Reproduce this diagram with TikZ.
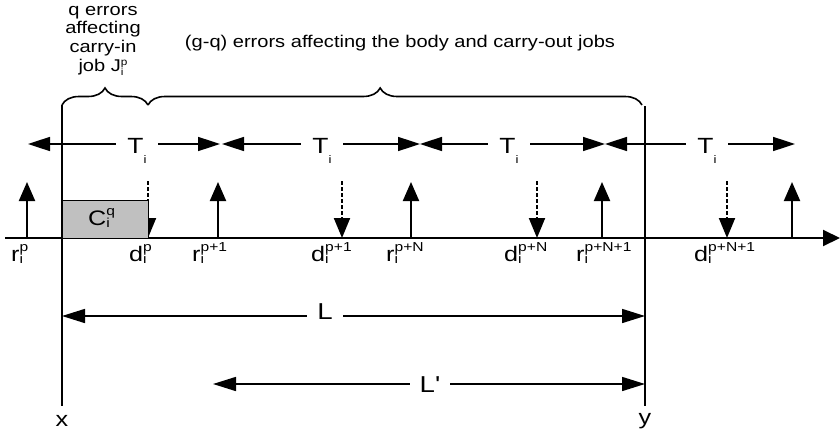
\documentclass[tikz,border=0pt]{standalone}
\usepackage{fontspec}
\setmainfont{Liberation Sans}
\usepackage{graphicx}
\usetikzlibrary{arrows.meta,decorations.pathreplacing}
\newcommand\hs[1]{\scalebox{1.2}[1]{#1}}
\newcommand\hh[1]{\scalebox{1.18}[1]{#1}}
\newcommand\subsz{\fontsize{13}{13}\selectfont}
\newcommand\lb[3]{#1\rlap{\raisebox{-2.5pt}{\subsz #2}}\raisebox{9.5pt}{\subsz #3}}
\definecolor{boxgray}{RGB}{192,192,192}
\tikzset{
  hdr/.style={font=\fontsize{17}{17}\selectfont, inner sep=0pt, anchor=base},
  lbl/.style={font=\fontsize{21}{21}\selectfont, inner sep=0pt, anchor=base west},
  tlab/.style={font=\fontsize{22}{22}\selectfont, fill=white, inner xsep=11pt, inner ysep=3pt, anchor=base},
  llab/.style={font=\fontsize{23}{23}\selectfont, fill=white, inner xsep=10pt, inner ysep=2pt, anchor=base},
  xylab/.style={font=\fontsize{21}{21}\selectfont, inner sep=0pt, anchor=base},
  axisline/.style={line width=2pt, -{Triangle[length=17pt,width=16pt]}},
  vline/.style={line width=2pt},
  uparr/.style={line width=2pt, -{Triangle[length=19pt,width=16pt]}},
  dlarr/.style={line width=2pt, dash pattern=on 4pt off 2pt, -{Triangle[length=20pt,width=16pt]}},
  tarr/.style={line width=1.6pt, {Triangle[length=22pt,width=14pt]}-{Triangle[length=22pt,width=14pt]}},
  larr/.style={line width=1.6pt, {Triangle[length=23pt,width=14pt]}-{Triangle[length=23pt,width=14pt]}},
  bracedeco/.style={line width=1.6pt, decorate},
}
\begin{document}
\begin{tikzpicture}[x=1pt,y=-1pt]
\useasboundingbox (0,0) rectangle (840,431);

% header texts
\node[hdr] (h1) at (103,15) {\hh{q errors}};
\node[hdr] (h2) at (103,33) {\hh{affecting}};
\node[hdr] (h3) at (103,52) {\hh{carry-in}};
\node[hdr] (h4) at (103,71) {\hh{job J\rlap{\raisebox{-4pt}{\fontsize{10}{10}\selectfont i}}\raisebox{6pt}{\fontsize{10}{10}\selectfont p}}};
\node[hdr] (h5) at (400,47) {\hh{(g-q) errors affecting the body and carry-out jobs}};

% coordinates
\coordinate (ax0) at (5,238);
\coordinate (ax1) at (840,238);
\coordinate (xtop) at (62,105);
\coordinate (xbot) at (62,406);
\coordinate (ytop) at (645,106);
\coordinate (ybot) at (645,406);
\coordinate (bmid) at (148,105);
\coordinate (bend) at (642,105);

% time axis
\draw[axisline] (ax0) -- (ax1);

% releases (up arrows)
\foreach \i/\xx in {0/27,1/218,2/411,3/602,4/792}{
  \coordinate (rb\i) at (\xx,238);
  \coordinate (rt\i) at (\xx,182);
  \draw[uparr] (rb\i) -- (rt\i);
}
% deadlines (dashed down arrows)
\foreach \i/\xx in {0/148,1/342,2/537,3/727}{
  \coordinate (dt\i) at (\xx,181);
  \coordinate (db\i) at (\xx,238);
  \draw[dlarr] (dt\i) -- (db\i);
}

% carry-in execution box
\draw[fill=boxgray, line width=1pt] (62,200) rectangle (148,238);
\node[lbl] (cq) at (88,225) {\hs{\lb{C}{i}{q}}};

% x and y vertical lines
\draw[vline] (xtop) -- (xbot);
\draw[vline] (ytop) -- (ybot);

% braces
\draw[bracedeco, decoration={brace, amplitude=17pt}] (xtop) -- (bmid);
\draw[bracedeco, decoration={brace, amplitude=17pt, aspect=0.47}] (bmid) -- (bend);

% period arrows
\coordinate (ta0) at (28,144);
\coordinate (ta1) at (220,144);
\coordinate (ta2) at (222,144);
\coordinate (ta3) at (420,144);
\coordinate (ta4) at (420,144);
\coordinate (ta5) at (605,144);
\coordinate (ta6) at (605,144);
\coordinate (ta7) at (795,144);
\draw[tarr] (ta0) -- (ta1);
\draw[tarr] (ta2) -- (ta3);
\draw[tarr] (ta4) -- (ta5);
\draw[tarr] (ta6) -- (ta7);
\foreach \i/\xx in {1/137,2/322,3/509,4/707}{
  \node[tlab] (T\i) at (\xx,153) {\hs{T\raisebox{-10pt}{\fontsize{11}{11}\selectfont i}}};
}

% labels under the axis
\node[lbl] (lr0) at (11,261) {\hs{\lb{r}{i}{p}}};
\node[lbl] (ld0) at (129,261) {\hs{\lb{d}{i}{p}}};
\node[lbl] (lr1) at (192,261) {\hs{\lb{r}{i}{p+1}}};
\node[lbl] (ld1) at (311,261) {\hs{\lb{d}{i}{p+1}}};
\node[lbl] (lr2) at (386,261) {\hs{\lb{r}{i}{p+N}}};
\node[lbl] (ld2) at (504,261) {\hs{\lb{d}{i}{p+N}}};
\node[lbl] (lr3) at (576,261) {\hs{\lb{r}{i}{p+N+1}}};
\node[lbl] (ld3) at (694,261) {\hs{\lb{d}{i}{p+N+1}}};

% L and L'
\coordinate (la) at (62,316);
\coordinate (lb) at (645,316);
\coordinate (lpa) at (213,384);
\coordinate (lpb) at (645,384);
\draw[larr] (la) -- (lb);
\draw[larr] (lpa) -- (lpb);
\node[llab] (Llab) at (325,319) {\hs{L}};
\node[llab] (Lplab) at (430,392) {\hs{L\textquotesingle}};

% x and y
\node[xylab] (xl) at (62,426) {\hs{x}};
\node[xylab] (yl) at (645,424) {\hs{y}};
\end{tikzpicture}
\end{document}
